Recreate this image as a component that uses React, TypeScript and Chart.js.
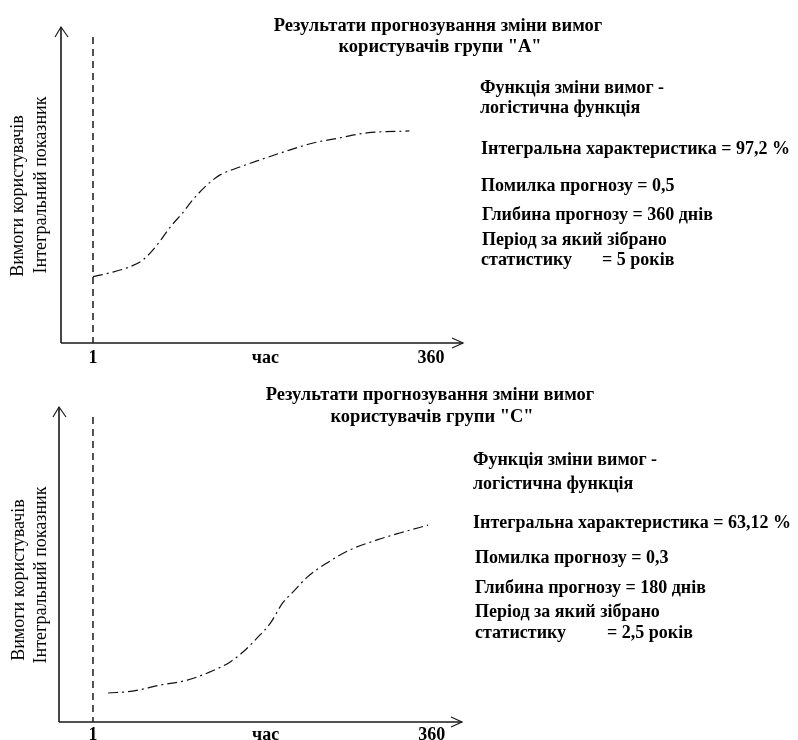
import React, { useEffect, useRef } from "react";
import { Chart, registerables } from "chart.js";

Chart.register(...registerables);

// ---- shared axis texts ----
const xTickValues = [1, 184, 360];
const xTickLabels = ["1", "час", "360"];
const yAxisLabels = ["Вимоги користувачів", "Інтегральний показник"];

// ---- chart "A" ----
const titleA = ["Результати прогнозування зміни вимог", "користувачів групи \"А\""];
const daysA = [1, 19, 40, 54, 69, 83, 96, 107, 122, 136, 157, 178, 203, 235, 263, 292, 337];
const valuesA = [21.0, 22.2, 24.1, 26.3, 31.0, 36.7, 41.1, 45.3, 50.0, 53.2, 55.7, 57.9, 60.4, 63.3, 64.9, 66.5, 67.1];
const infoA = [
  "Функція зміни вимог -",
  "логістична функція",
  "Інтегральна характеристика = 97,2 %",
  "Помилка прогнозу = 0,5",
  "Глибина прогнозу = 360 днів",
  "Період за який зібрано",
  "статистику",
  "= 5 років",
];

// ---- chart "C" ----
const titleC = ["Результати прогнозування зміни вимог", "користувачів групи \"С\""];
const daysC = [17, 43, 72, 101, 125, 146, 160, 175, 189, 202, 213, 228, 249, 273, 302, 326, 356];
const valuesC = [9.2, 9.8, 11.7, 13.3, 15.9, 19.0, 22.2, 26.7, 31.4, 37.8, 41.3, 46.0, 50.5, 54.6, 57.8, 60.0, 62.5];
const infoC = [
  "Функція зміни вимог -",
  "логістична функція",
  "Інтегральна характеристика = 63,12 %",
  "Помилка прогнозу = 0,3",
  "Глибина прогнозу = 180 днів",
  "Період за який зібрано",
  "статистику",
  "= 2,5 років",
];

type Layout = {
  pad: { left: number; right: number; top: number; bottom: number };
  xMin: number;
  xMax: number;
  dashTop: number;
  tickY: number;
  titleX: number[];
  titleY: number[];
  yLabelX: number[];
  yLabelY: number[];
  infoX: number[];
  infoY: number[];
};

const layoutA: Layout = {
  pad: { left: 61, right: 335, top: 27, bottom: 27 },
  xMin: -33,
  xMax: 394,
  dashTop: 10,
  tickY: 358,
  titleX: [438, 440],
  titleY: [31, 52],
  yLabelX: [18, 41],
  yLabelY: [196, 185],
  infoX: [480, 480, 481, 481, 482, 482, 481, 602],
  infoY: [93, 113, 154, 191, 220, 245, 265, 265],
};

const layoutC: Layout = {
  pad: { left: 59, right: 336, top: 37, bottom: 18 },
  xMin: -35,
  xMax: 392,
  dashTop: 10,
  tickY: 365,
  titleX: [430, 432],
  titleY: [30, 52],
  yLabelX: [19, 41],
  yLabelY: [210, 205],
  infoX: [473, 473, 473, 475, 475, 475, 475, 607],
  infoY: [95, 119, 158, 193, 223, 247, 268, 268],
};

const SERIF = "'Liberation Serif', 'Times New Roman', serif";

function makeOverlay(title: string[], info: string[], lay: Layout) {
  return {
    id: "overlay",
    afterDraw(chart: any) {
      const { ctx, chartArea, scales } = chart;
      const xs = scales.x;
      const L = chartArea.left;
      const R = chartArea.right;
      const T = chartArea.top;
      const B = chartArea.bottom;
      ctx.save();
      ctx.strokeStyle = "#1a1a1a";
      ctx.lineWidth = 1.6;
      ctx.beginPath();
      ctx.moveTo(L, B);
      ctx.lineTo(L, T);
      ctx.moveTo(L, B);
      ctx.lineTo(R, B);
      ctx.stroke();
      ctx.lineWidth = 1.2;
      ctx.beginPath();
      ctx.moveTo(L - 6, T + 10);
      ctx.lineTo(L, T);
      ctx.lineTo(L + 7, T + 10);
      ctx.moveTo(R - 11, B - 5);
      ctx.lineTo(R, B);
      ctx.lineTo(R - 11, B + 5);
      ctx.stroke();
      // dashed vertical at first day
      const x1 = xs.getPixelForValue(xTickValues[0]);
      ctx.lineWidth = 1.5;
      ctx.setLineDash([7, 5]);
      ctx.beginPath();
      ctx.moveTo(x1, T + lay.dashTop);
      ctx.lineTo(x1, B);
      ctx.stroke();
      ctx.setLineDash([]);

      ctx.fillStyle = "#000";
      // tick labels
      ctx.font = `bold 18px ${SERIF}`;
      ctx.textAlign = "center";
      ctx.textBaseline = "middle";
      xTickValues.forEach((v, i) => {
        ctx.fillText(xTickLabels[i], xs.getPixelForValue(v), lay.tickY);
      });
      // title
      ctx.textBaseline = "alphabetic";
      ctx.font = `bold 18.5px ${SERIF}`;
      title.forEach((t, i) => ctx.fillText(t, lay.titleX[i], lay.titleY[i]));
      // y axis labels
      ctx.font = `18px ${SERIF}`;
      yAxisLabels.forEach((t, i) => {
        ctx.save();
        ctx.translate(lay.yLabelX[i], lay.yLabelY[i]);
        ctx.rotate(-Math.PI / 2);
        ctx.textBaseline = "middle";
        ctx.fillText(t, 0, 0);
        ctx.restore();
      });
      // info block
      ctx.textAlign = "left";
      ctx.textBaseline = "alphabetic";
      ctx.font = `bold 18px ${SERIF}`;
      info.forEach((t, i) => ctx.fillText(t, lay.infoX[i], lay.infoY[i]));
      ctx.restore();
    },
  };
}

function ForecastChart(props: {
  days: number[];
  values: number[];
  title: string[];
  info: string[];
  lay: Layout;
}) {
  const ref = useRef<HTMLCanvasElement | null>(null);
  useEffect(() => {
    if (!ref.current) return;
    const { days, values, title, info, lay } = props;
    const chart = new Chart(ref.current, {
      type: "line",
      data: {
        datasets: [
          {
            data: days.map((d, i) => ({ x: d, y: values[i] })),
            borderColor: "#111",
            borderWidth: 1.2,
            borderDash: [10, 4, 2, 4],
            pointRadius: 0,
            tension: 0.4,
            cubicInterpolationMode: "monotone",
            fill: false,
          },
        ],
      },
      options: {
        animation: false,
        responsive: false,
        devicePixelRatio: 1,
        layout: { padding: lay.pad },
        plugins: { legend: { display: false }, tooltip: { enabled: false }, title: { display: false } },
        scales: {
          x: { type: "linear", min: lay.xMin, max: lay.xMax, display: false },
          y: { type: "linear", min: 0, max: 100, display: false },
        },
      },
      plugins: [makeOverlay(title, info, lay)],
    } as any);
    return () => chart.destroy();
  }, []);
  return <canvas ref={ref} width={798} height={370} style={{ display: "block", width: 798, height: 370 }} />;
}

export default function App() {
  return (
    <div style={{ position: "absolute", left: 0, top: 0, width: 798, height: 740, background: "#fff" }}>
      <ForecastChart days={daysA} values={valuesA} title={titleA} info={infoA} lay={layoutA} />
      <ForecastChart days={daysC} values={valuesC} title={titleC} info={infoC} lay={layoutC} />
    </div>
  );
}
